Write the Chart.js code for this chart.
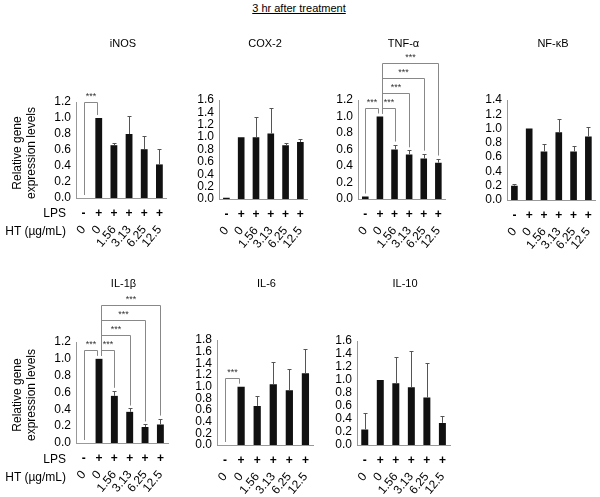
<!DOCTYPE html>
<html><head><meta charset="utf-8">
<script src="https://cdn.jsdelivr.net/npm/chart.js@4.4.0/dist/chart.umd.min.js"></script>
<style>
body{margin:0;width:600px;height:497px;background:#fff;position:relative;overflow:hidden;font-family:"Liberation Sans",Arial,Helvetica,sans-serif;color:#000}
.c{position:absolute}
.t{position:absolute;font-size:11px;white-space:nowrap;transform:translate(-50%,-50%)}
.r{position:absolute;font-size:12px;white-space:nowrap;text-align:right;transform:translate(-100%,-50%)}
.yl{position:absolute;font-size:12px;line-height:14px;text-align:center;white-space:nowrap;transform:translate(-50%,-50%) rotate(-90deg)}
</style></head>
<body>
<div class="t" style="left:299px;top:8px;text-decoration:underline">3 hr after treatment</div>
<div id="root"></div>
<script>
// ---- data ----
const lpsLabels = ['-','+','+','+','+','+'];
const htLabels  = ['0','0','1.56','3.13','6.25','12.5'];
const genes = ['iNOS','COX-2','TNF-α','NF-κB','IL-1β','IL-6','IL-10'];
const yMax  = [1.2, 1.6, 1.2, 1.4, 1.2, 1.8, 1.6];

const iNOS     = [0.00, 1.00, 0.66, 0.80, 0.61, 0.42];
const iNOS_err = [0.00, 0.00, 0.03, 0.23, 0.16, 0.19];
const COX2     = [0.02, 1.00, 1.00, 1.06, 0.87, 0.92];
const COX2_err = [0.00, 0.00, 0.33, 0.41, 0.04, 0.05];
const TNFa     = [0.03, 1.00, 0.60, 0.54, 0.49, 0.44];
const TNFa_err = [0.00, 0.00, 0.06, 0.05, 0.06, 0.05];
const NFkB     = [0.20, 1.00, 0.68, 0.95, 0.68, 0.89];
const NFkB_err = [0.03, 0.00, 0.11, 0.18, 0.08, 0.13];
const IL1b     = [0.00, 1.00, 0.56, 0.37, 0.19, 0.22];
const IL1b_err = [0.00, 0.00, 0.06, 0.04, 0.03, 0.07];
const IL6      = [0.00, 1.00, 0.67, 1.04, 0.94, 1.23];
const IL6_err  = [0.00, 0.00, 0.17, 0.39, 0.37, 0.42];
const IL10     = [0.24, 1.00, 0.95, 0.89, 0.73, 0.34];
const IL10_err = [0.25, 0.00, 0.41, 0.55, 0.53, 0.10];

// significance comparisons: [groupA, groupB, nesting level]
const iNOS_sig = [[0,1,0]];
const TNFa_sig = [[0,1,0],[1,2,0],[1,3,1],[1,4,2],[1,5,3]];
const IL1b_sig = [[0,1,0],[1,2,0],[1,3,1],[1,4,2],[1,5,3]];
const IL6_sig  = [[0,1,0]];

// ---- layout (plot area: left, right, top(max), bottom(0)) ----
const panels = [
  {vals:iNOS, err:iNOS_err, sig:iNOS_sig, box:[76,170,102,198], rowTop:48, gap:16, step:15},
  {vals:COX2, err:COX2_err, sig:[],       box:[219,311,100,199], rowTop:48},
  {vals:TNFa, err:TNFa_err, sig:TNFa_sig, box:[358,449,100,199], rowTop:48, gap:9, step:15},
  {vals:NFkB, err:NFkB_err, sig:[],       box:[507,599,100,200], rowTop:48},
  {vals:IL1b, err:IL1b_err, sig:IL1b_sig, box:[76,171,342,443], rowTop:288, gap:9, step:15},
  {vals:IL6,  err:IL6_err,  sig:IL6_sig,  box:[217,316,340,445], rowTop:288, gap:9, step:15},
  {vals:IL10, err:IL10_err, sig:[],       box:[357,453,341,445], rowTop:288}
];
const titleY = [43, 283];
const YW = 40, XH1 = 22, XH2 = 48, PR = 4;

Chart.defaults.font.family = "'Liberation Sans', Arial, Helvetica, sans-serif";
Chart.defaults.color = '#000';

const annot = {
  id:'annot',
  afterDatasetsDraw(chart, args, o){
    const ctx = chart.ctx, xs = chart.scales.x, ys = chart.scales.y;
    const vals = o.vals, err = o.err;
    ctx.save();
    ctx.strokeStyle = '#555'; ctx.lineWidth = 1;
    vals.forEach((v,i)=>{
      if(!err[i]) return;
      const x = Math.round(xs.getPixelForValue(i)) + 0.5;
      const y0 = ys.getPixelForValue(v), y1 = Math.round(ys.getPixelForValue(v+err[i])) + 0.5;
      ctx.beginPath(); ctx.moveTo(x,y0); ctx.lineTo(x,y1);
      ctx.moveTo(x-2,y1); ctx.lineTo(x+2,y1); ctx.stroke();
    });
    ctx.strokeStyle = '#888'; ctx.fillStyle = '#333';
    ctx.font = "9px 'Liberation Sans', Arial, sans-serif";
    ctx.textAlign = 'center'; ctx.textBaseline = 'bottom';
    (o.sig||[]).forEach(([a,b,lvl])=>{
      let m = 0;
      for(let i=a;i<=b;i++) m = Math.max(m, vals[i]+err[i]);
      const y = Math.round(ys.getPixelForValue(m) - o.gap - lvl*o.step) + 0.5;
      const xa = Math.round(xs.getPixelForValue(a) + (a===1?2:0)) + 0.5;
      const xb = Math.round(xs.getPixelForValue(b) - (b===1?2:0)) + 0.5;
      const ya = ys.getPixelForValue(vals[a]+err[a]) - 3;
      const yb = ys.getPixelForValue(vals[b]+err[b]) - 3;
      ctx.beginPath(); ctx.moveTo(xa,ya); ctx.lineTo(xa,y); ctx.lineTo(xb,y); ctx.lineTo(xb,yb); ctx.stroke();
      ctx.fillText('***', (xa+xb)/2, y - 1);
    });
    ctx.restore();
  }
};

const root = document.getElementById('root');
function addDiv(cls, html, x, y){
  const d = document.createElement('div'); d.className = cls; d.innerHTML = html;
  d.style.left = x+'px'; d.style.top = y+'px'; root.appendChild(d);
}

panels.forEach((p,k)=>{
  const [l,r,t,b] = p.box;
  const w = YW + (r-l) + PR, h = (b - p.rowTop) + XH1 + XH2;
  const wrap = document.createElement('div'); wrap.className='c';
  wrap.style.left = (l-YW)+'px'; wrap.style.top = p.rowTop+'px';
  wrap.style.width = w+'px'; wrap.style.height = h+'px';
  const cv = document.createElement('canvas'); wrap.appendChild(cv); root.appendChild(wrap);
  addDiv('t', genes[k], (l+r)/2, titleY[k<4?0:1]);
  new Chart(cv, {
    type:'bar',
    data:{ labels: lpsLabels, datasets:[{ data:p.vals, backgroundColor:'#111', borderWidth:0, barPercentage:0.45, categoryPercentage:1 }]},
    options:{
      responsive:true, maintainAspectRatio:false, animation:false,
      layout:{ padding:{ top: t - p.rowTop, right: PR, left:0, bottom:0 } },
      plugins:{ legend:{display:false}, tooltip:{enabled:false}, annot:{ vals:p.vals, err:p.err, sig:p.sig, gap:p.gap||0, step:p.step||0 } },
      scales:{
        y:{ min:0, max:yMax[k], afterFit:s=>{s.width=YW;},
            grid:{display:false, drawTicks:false}, border:{display:true,color:'#999',width:1},
            ticks:{ stepSize:0.2, padding:5, autoSkip:false, font:{size:12}, callback:v=>Number(v).toFixed(1) } },
        x:{ type:'category', labels: lpsLabels, position:'bottom', afterFit:s=>{s.height=XH1;},
            grid:{display:false, drawTicks:false}, border:{display:true,color:'#999',width:1},
            ticks:{ padding:8, font:{size:12, weight:'bold'}, autoSkip:false, maxRotation:0, minRotation:0 } },
        x2:{ type:'category', labels: htLabels, position:'bottom', afterFit:s=>{s.height=XH2;},
            grid:{display:false, drawTicks:false}, border:{display:false},
            ticks:{ padding:3, font:{size:12}, autoSkip:false, maxRotation:50, minRotation:50 } }
      }
    },
    plugins:[annot]
  });
});

// row labels
[[153,213,231],[395,459,477]].forEach(([yc,ylps,yht])=>{
  addDiv('yl', 'Relative gene<br>expression levels', 24, yc);
  addDiv('r', 'LPS', 66, ylps);
  addDiv('r', 'HT (µg/mL)', 66, yht);
});
</script>
</body></html>
